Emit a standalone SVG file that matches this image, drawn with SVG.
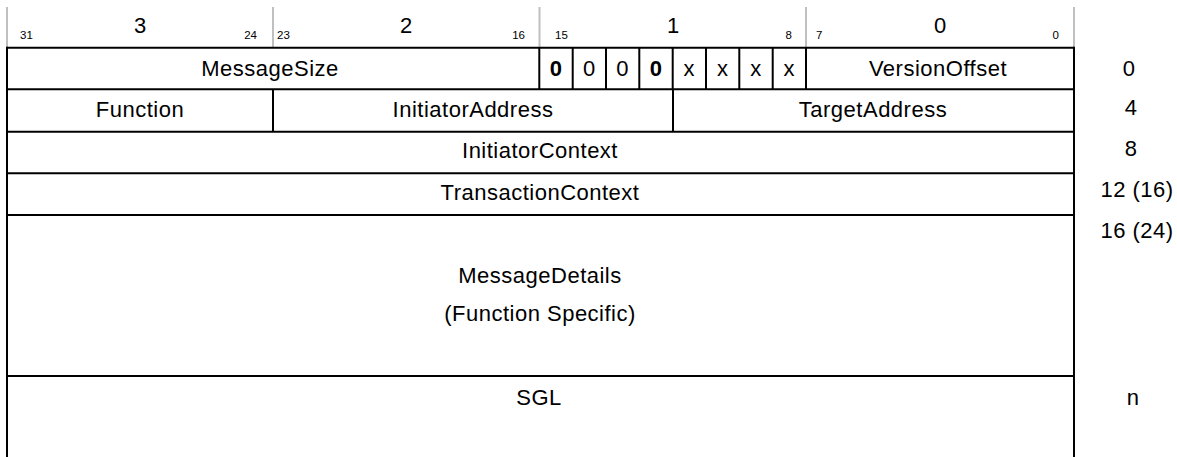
<svg xmlns="http://www.w3.org/2000/svg" width="1177" height="457" viewBox="0 0 1177 457">
<style>
.t{font-family:"Liberation Sans",Arial,sans-serif;font-size:22px;fill:#000;text-anchor:middle;letter-spacing:0.5px}
.b{font-weight:bold}
.s{font-family:"Liberation Sans",Arial,sans-serif;font-size:11.5px;fill:#000}
.h{font-family:"Liberation Sans",Arial,sans-serif;font-size:22px;fill:#000;text-anchor:middle}
.g{stroke:#c0c0c0;stroke-width:2;fill:none}
.k{stroke:#000;stroke-width:2;fill:none}
.e{text-anchor:end}
</style>
<rect width="1177" height="457" fill="#fff"/>
<g id="header">
<line class="g" x1="7" y1="7" x2="7" y2="47"/>
<line class="g" x1="273" y1="7" x2="273" y2="47"/>
<line class="g" x1="539.5" y1="7" x2="539.5" y2="47"/>
<line class="g" x1="806" y1="7" x2="806" y2="47"/>
<line class="g" x1="1074" y1="7" x2="1074" y2="47"/>
<text class="h" x="140" y="33">3</text>
<text class="h" x="406" y="33">2</text>
<text class="h" x="673" y="33">1</text>
<text class="h" x="940" y="33">0</text>
<text class="s" x="20" y="39">31</text>
<text class="s e" x="257" y="39">24</text>
<text class="s" x="277" y="39">23</text>
<text class="s e" x="525" y="39">16</text>
<text class="s" x="555" y="39">15</text>
<text class="s e" x="792" y="39">8</text>
<text class="s" x="816" y="39">7</text>
<text class="s e" x="1059" y="39">0</text>
</g>
<g id="connectors">
<line class="k" x1="7" y1="47.7" x2="1074" y2="47.7"/>
<line class="k" x1="7" y1="89.3" x2="1074" y2="89.3"/>
<line class="k" x1="7" y1="131.7" x2="1074" y2="131.7"/>
<line class="k" x1="7" y1="173.3" x2="1074" y2="173.3"/>
<line class="k" x1="7" y1="215" x2="1074" y2="215"/>
<line class="k" x1="7" y1="376" x2="1074" y2="376"/>
<line class="k" x1="7" y1="46.7" x2="7" y2="457"/>
<line class="k" x1="1074" y1="46.7" x2="1074" y2="457"/>
<line class="k" x1="539.3" y1="47.7" x2="539.3" y2="89.3"/>
<line class="k" x1="572.7" y1="47.7" x2="572.7" y2="89.3"/>
<line class="k" x1="606" y1="47.7" x2="606" y2="89.3"/>
<line class="k" x1="639.3" y1="47.7" x2="639.3" y2="89.3"/>
<line class="k" x1="672.7" y1="47.7" x2="672.7" y2="89.3"/>
<line class="k" x1="706" y1="47.7" x2="706" y2="89.3"/>
<line class="k" x1="739.3" y1="47.7" x2="739.3" y2="89.3"/>
<line class="k" x1="772.7" y1="47.7" x2="772.7" y2="89.3"/>
<line class="k" x1="806" y1="47.7" x2="806" y2="89.3"/>
<line class="k" x1="273" y1="89.3" x2="273" y2="131.7"/>
<line class="k" x1="673" y1="89.3" x2="673" y2="131.7"/>
</g>
<g id="MessageSize"><text class="t" x="270" y="76">MessageSize</text></g>
<g id="bits">
<text class="t b" x="556" y="76">0</text>
<text class="t" x="589.3" y="76">0</text>
<text class="t" x="622.7" y="76">0</text>
<text class="t b" x="656" y="76">0</text>
<text class="t" x="689.3" y="76">x</text>
<text class="t" x="722.7" y="76">x</text>
<text class="t" x="756" y="76">x</text>
<text class="t" x="789.3" y="76">x</text>
</g>
<g id="VersionOffset"><text class="t" x="938" y="76">VersionOffset</text></g>
<g id="Function"><text class="t" x="140" y="117">Function</text></g>
<g id="InitiatorAddress"><text class="t" x="473" y="117">InitiatorAddress</text></g>
<g id="TargetAddress"><text class="t" x="873" y="117">TargetAddress</text></g>
<g id="InitiatorContext"><text class="t" x="540" y="158">InitiatorContext</text></g>
<g id="TransactionContext"><text class="t" x="540" y="200">TransactionContext</text></g>
<g id="MessageDetails">
<text class="t" x="540" y="283">MessageDetails</text>
<text class="t" x="540" y="321">(Function Specific)</text>
</g>
<g id="SGL"><text class="t" x="539" y="405">SGL</text></g>
<g id="offsets">
<text class="t" x="1129" y="76">0</text>
<text class="t" x="1131" y="115">4</text>
<text class="t" x="1131" y="156">8</text>
<text class="t" x="1137" y="197">12 (16)</text>
<text class="t" x="1137" y="238">16 (24)</text>
<text class="t" x="1133" y="405">n</text>
</g>
</svg>
